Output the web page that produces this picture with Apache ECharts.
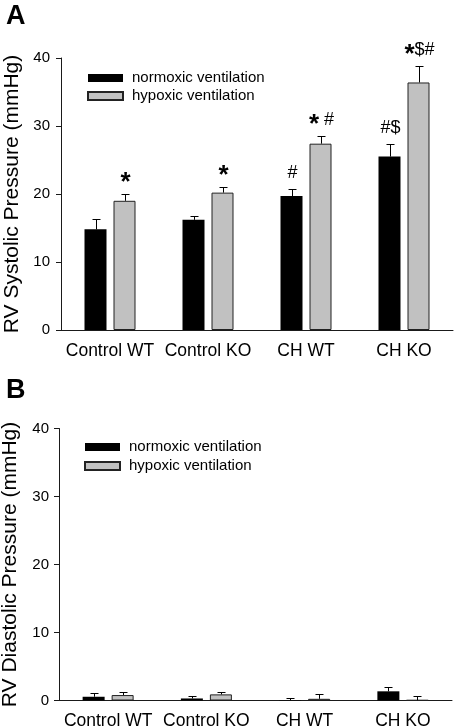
<!DOCTYPE html>
<html><head><meta charset="utf-8">
<script src="https://cdn.jsdelivr.net/npm/echarts@6/dist/echarts.min.js"></script>
<style>html,body{margin:0;padding:0;background:#fff}#c{width:455px;height:727px}</style>
</head><body><div id="c"></div>
<script>
const categories = ['Control WT', 'Control KO', 'CH WT', 'CH KO'];
const seriesNames = ['normoxic ventilation', 'hypoxic ventilation'];
const yMin = 0, yMax = 40, yStep = 10;
const panelLetters = ['A', 'B'];
const yTitles = ['RV Systolic Pressure (mmHg)', 'RV Diastolic Pressure (mmHg)'];

const sysNormoxic = [14.8, 16.2, 19.7, 25.5];
const sysNormoxicErr = [1.5, 0.5, 1.1, 1.9];
const sysHypoxic = [19.0, 20.2, 27.4, 36.4];
const sysHypoxicErr = [1.0, 0.8, 1.2, 2.4];
const sysNormoxicMarks = ['', '', '#', '#$'];
const sysHypoxicMarks = ['*', '*', '* #', '*$#'];

const diaNormoxic = [0.55, 0.3, 0.05, 1.35];
const diaNormoxicErr = [0.55, 0.3, 0.25, 0.65];
const diaHypoxic = [0.8, 0.9, 0.25, 0.05];
const diaHypoxicErr = [0.5, 0.35, 0.65, 0.55];

const FONT = "'Liberation Sans', Arial, sans-serif";
const BAR_W = 22, BAR_GAP = 7;
const AX = '#1a1a1a';
const GRAY = '#c1c1c1';

function richify(m) {
  return m.split('').map(ch => ch === '*' ? '{s|*}' : (ch === ' ' ? '{h| }' : '{h|' + ch + '}')).join('');
}
const markRich = {
  s: { fontSize: 26, fontWeight: 'bold', fontFamily: FONT, fill: '#000', lineHeight: 24, padding: [9, 0, 0, 0] },
  h: { fontSize: 18, fontFamily: FONT, fill: '#000', lineHeight: 24 }
};

function errorSeries(idx, vals, errs, marks, side) {
  return {
    type: 'custom', xAxisIndex: idx, yAxisIndex: idx, z: 5, silent: true,
    data: vals.map((v, i) => [i, v, errs[i]]),
    renderItem(params, api) {
      const i = api.value(0), v = api.value(1), e = api.value(2);
      const base = api.coord([i, v]);
      const top = api.coord([i, v + e]);
      const x = Math.round(base[0] + side * (BAR_W + BAR_GAP) / 2) + 0.5;
      const yt = Math.round(top[1]) + 0.5;
      const children = [
        { type: 'line', shape: { x1: x, y1: base[1], x2: x, y2: yt }, style: { stroke: '#000', lineWidth: 1 } },
        { type: 'line', shape: { x1: x - 4, y1: yt, x2: x + 4, y2: yt }, style: { stroke: '#000', lineWidth: 1 } }
      ];
      const m = marks ? marks[params.dataIndex] : '';
      if (m) {
        children.push({ type: 'text', x: x, y: yt - 4,
          style: { text: richify(m), rich: markRich, align: 'center', verticalAlign: 'bottom' } });
      }
      return { type: 'group', children };
    }
  };
}

const grids = [
  { left: 61, top: 58, width: 392, height: 272 },
  { left: 59, top: 428.5, width: 393, height: 272 }
];

function xAxisCfg(idx) {
  return {
    type: 'category', gridIndex: idx, data: categories,
    axisLine: { lineStyle: { color: AX, width: 1 } },
    axisTick: { alignWithLabel: true, length: 5, lineStyle: { color: AX } },
    axisLabel: { fontSize: 17.5, fontFamily: FONT, color: '#000', margin: 12, interval: 0 },
    splitLine: { show: false }
  };
}
function yAxisCfg(idx) {
  return {
    type: 'value', gridIndex: idx, min: yMin, max: yMax, interval: yStep,
    name: yTitles[idx], nameLocation: 'middle', nameGap: 38,
    nameTextStyle: { fontSize: 21, fontFamily: FONT, color: '#000' },
    axisLine: { show: true, lineStyle: { color: AX, width: 1 } },
    axisTick: { show: true, length: 5, lineStyle: { color: AX } },
    axisLabel: { fontSize: 15, fontFamily: FONT, color: '#000', margin: idx === 0 ? 11 : 10 },
    splitLine: { show: false }
  };
}
function barSeries(idx, name, vals, dark) {
  return {
    type: 'bar', name, xAxisIndex: idx, yAxisIndex: idx, data: vals,
    barWidth: BAR_W, barGap: (BAR_GAP / BAR_W * 100) + '%',
    itemStyle: dark ? { color: '#000', borderColor: '#000', borderWidth: 0 }
                    : { color: GRAY, borderColor: '#222', borderWidth: 1 },
    emphasis: { disabled: true }, animation: false
  };
}
function legendCfg(left, top, gap) {
  return {
    left, top, orient: 'vertical', icon: 'rect', itemWidth: 35, itemHeight: 8, itemGap: gap,
    padding: 0, selectedMode: false, data: seriesNames,
    textStyle: { fontSize: 15, fontFamily: FONT, color: '#000', padding: [0, 0, 0, 4] }
  };
}

const chart = echarts.init(document.getElementById('c'), null, { renderer: 'canvas' });
chart.setOption({
  animation: false,
  backgroundColor: '#fff',
  grid: grids.map(g => Object.assign({ containLabel: false, outerBoundsMode: 'none' }, g)),
  xAxis: [xAxisCfg(0), xAxisCfg(1)],
  yAxis: [yAxisCfg(0), yAxisCfg(1)],
  legend: [legendCfg(87, 70.5, 3), legendCfg(84, 439.5, 4)],
  graphic: [
    { type: 'text', left: 6, top: 3, style: { text: panelLetters[0], fontSize: 27, fontWeight: 'bold', fontFamily: FONT, fill: '#000' } },
    { type: 'text', left: 6, top: 377, style: { text: panelLetters[1], fontSize: 27, fontWeight: 'bold', fontFamily: FONT, fill: '#000' } }
  ],
  series: [
    barSeries(0, seriesNames[0], sysNormoxic, true),
    barSeries(0, seriesNames[1], sysHypoxic, false),
    errorSeries(0, sysNormoxic, sysNormoxicErr, sysNormoxicMarks, -1),
    errorSeries(0, sysHypoxic, sysHypoxicErr, sysHypoxicMarks, 1),
    barSeries(1, seriesNames[0], diaNormoxic, true),
    barSeries(1, seriesNames[1], diaHypoxic, false),
    errorSeries(1, diaNormoxic, diaNormoxicErr, null, -1),
    errorSeries(1, diaHypoxic, diaHypoxicErr, null, 1)
  ]
});
</script></body></html>
